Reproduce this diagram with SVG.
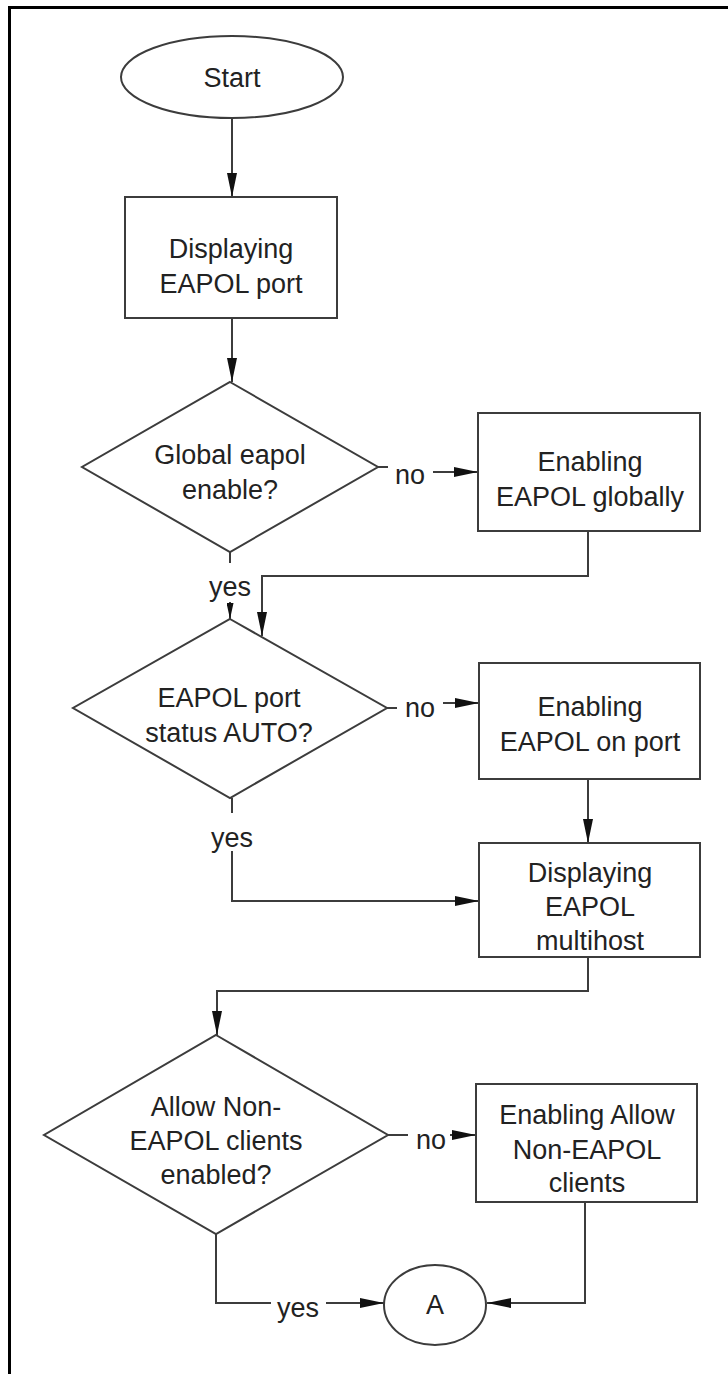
<svg xmlns="http://www.w3.org/2000/svg" width="728" height="1374" viewBox="0 0 728 1374">
<style>
.n{fill:#fff;stroke:#3c3c3c;stroke-width:2}
.t{font-family:"Liberation Sans",Arial,sans-serif;font-size:27px;fill:#222;text-anchor:middle}
.c{fill:none;stroke:#3c3c3c;stroke-width:2}
.a{marker-end:url(#ah)}
.s{marker-end:url(#ahs)}
</style>
<defs>
<marker id="ah" viewBox="0 0 24 10" refX="24" refY="5" markerWidth="24" markerHeight="10" markerUnits="userSpaceOnUse" orient="auto"><path d="M0,0 L24,5 L0,10 z" fill="#111"/></marker>
<marker id="ahs" viewBox="0 0 16 7" refX="16" refY="3.5" markerWidth="16" markerHeight="7" markerUnits="userSpaceOnUse" orient="auto"><path d="M0,0 L16,3.5 L0,7 z" fill="#111"/></marker>
</defs>
<rect width="728" height="1374" fill="#fff"/>
<g id="frame"><path d="M9.5,1374 V7.5 H728" fill="none" stroke="#000" stroke-width="3"/></g>
<g id="connectors">
<path class="c a" d="M232,118 V197"/>
<path class="c a" d="M232,318 V382"/>
<path class="c" d="M378,467 H388"/>
<path class="c a" d="M433,472 H478"/>
<path class="c" d="M230,552 V563"/>
<path class="c s" d="M230,602 V619"/>
<path class="c a" d="M588,531 V576 H262 V636"/>
<path class="c" d="M387,708 H397"/>
<path class="c a" d="M443,703 H479"/>
<path class="c" d="M232,798 V813"/>
<path class="c a" d="M232,851 V901 H479"/>
<path class="c a" d="M588,779 V843"/>
<path class="c a" d="M588,957 V991 H217 V1035"/>
<path class="c" d="M388,1135 H408"/>
<path class="c a" d="M450,1135 H476"/>
<path class="c" d="M216,1234 V1303 H271"/>
<path class="c a" d="M326,1303 H384"/>
<path class="c a" d="M585,1202 V1303 H487"/>
<text class="t" x="410" y="484">no</text>
<text class="t" x="230" y="596">yes</text>
<text class="t" x="420" y="717">no</text>
<text class="t" x="232" y="847">yes</text>
<text class="t" x="431" y="1149">no</text>
<text class="t" x="298" y="1317">yes</text>
</g>
<g id="start"><ellipse class="n" cx="232" cy="77" rx="111" ry="41"/><text class="t" x="232" y="87">Start</text></g>
<g id="display-port"><rect class="n" x="125" y="197" width="212" height="121"/><text class="t" x="231" y="258">Displaying</text><text class="t" x="231" y="293">EAPOL port</text></g>
<g id="global-enable"><polygon class="n" points="230,382 378,467 230,552 82,467"/><text class="t" x="230" y="464">Global eapol</text><text class="t" x="230" y="499">enable?</text></g>
<g id="enable-global"><rect class="n" x="478" y="413" width="222" height="118"/><text class="t" x="590" y="471">Enabling</text><text class="t" x="590" y="506">EAPOL globally</text></g>
<g id="port-auto"><polygon class="n" points="230,619 387,708 230,798 73,708"/><text class="t" x="229" y="707">EAPOL port</text><text class="t" x="229" y="742">status AUTO?</text></g>
<g id="enable-port"><rect class="n" x="479" y="663" width="221" height="116"/><text class="t" x="590" y="716">Enabling</text><text class="t" x="590" y="751">EAPOL on port</text></g>
<g id="display-multihost"><rect class="n" x="479" y="843" width="221" height="114"/><text class="t" x="590" y="882">Displaying</text><text class="t" x="590" y="916">EAPOL</text><text class="t" x="590" y="950">multihost</text></g>
<g id="allow-nonEAPOL"><polygon class="n" points="216,1035 388,1135 216,1234 44,1135"/><text class="t" x="216" y="1116">Allow Non-</text><text class="t" x="216" y="1150">EAPOL clients</text><text class="t" x="216" y="1184">enabled?</text></g>
<g id="enable-allow"><rect class="n" x="476" y="1084" width="221" height="118"/><text class="t" x="587" y="1124">Enabling Allow</text><text class="t" x="587" y="1159">Non-EAPOL</text><text class="t" x="587" y="1192">clients</text></g>
<g id="connector-A"><ellipse class="n" cx="435" cy="1305" rx="51" ry="40"/><text class="t" x="435" y="1314">A</text></g>
</svg>
